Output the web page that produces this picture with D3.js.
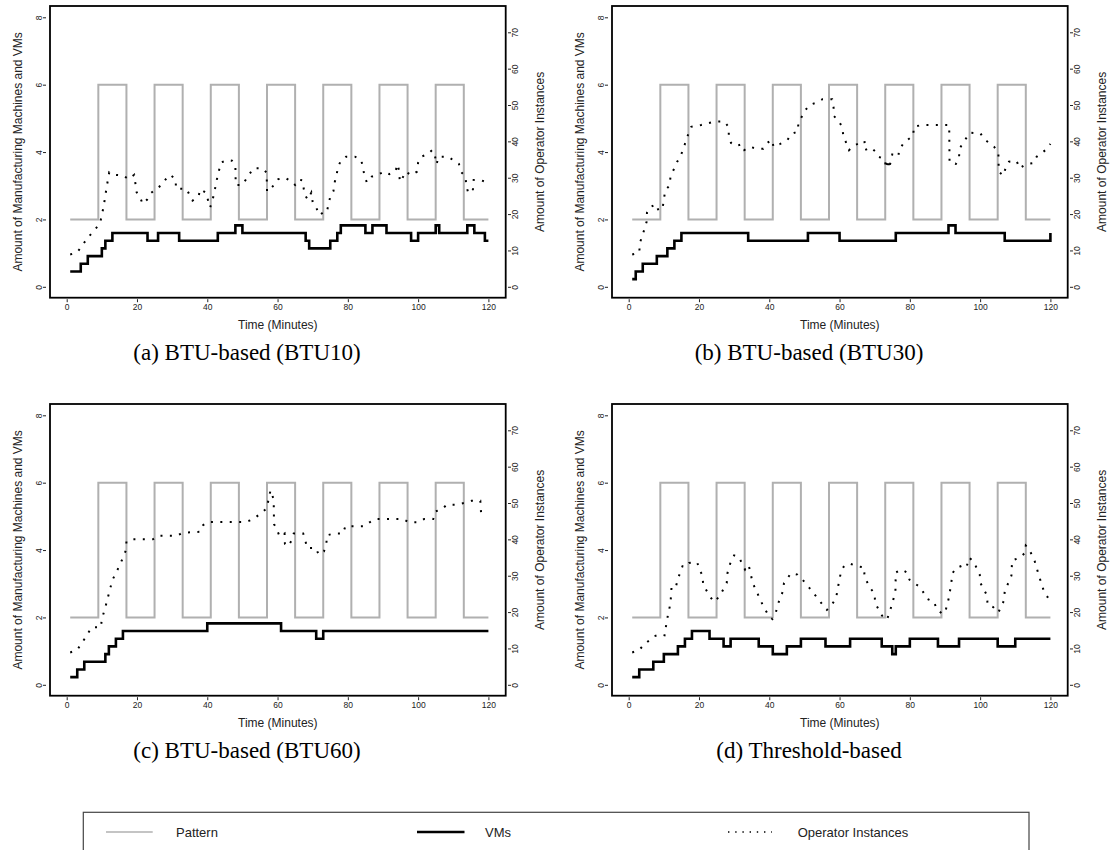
<!DOCTYPE html>
<html>
<head>
<meta charset="utf-8">
<script src="https://cdn.jsdelivr.net/npm/d3@7"></script>
<style>
  body { margin: 0; background: #fff; }
  svg { display: block; font-family: "Liberation Sans", Arial, sans-serif; }
</style>
</head>
<body>
<svg id="chart" width="1113" height="850" viewBox="0 0 1113 850"></svg>
<script>
// tick values
const timeTicks = [0, 20, 40, 60, 80, 100, 120];
const machineTicks = [0, 2, 4, 6, 8];
const operatorTicks = [0, 10, 20, 30, 40, 50, 60, 70];

// manufacturing machine pattern, [minute, machines] (step changes)
const pattern = [[1, 2], [9, 6], [17, 2], [25, 6], [33, 2], [41, 6], [49, 2], [57, 6],
  [65, 2], [73, 6], [81, 2], [89, 6], [97, 2], [105, 6], [113, 2], [120, 2]];

// VMs, [minute, number of VMs] (step changes)
const vmsBTU10 = [[1, 2], [4, 3], [6, 4], [10, 5], [11, 6], [13, 7], [23, 6], [26, 7], [32, 6],
  [43, 7], [48, 8], [50, 7], [68, 6], [69, 5], [75, 6], [77, 7], [78, 8], [85, 7], [87, 8],
  [91, 7], [98, 6], [100, 7], [105, 8], [106, 7], [114, 8], [116, 7], [119, 6], [120, 6]];
const vmsBTU30 = [[1, 1], [2, 2], [4, 3], [8, 4], [11, 5], [13, 6], [15, 7], [34, 6], [51, 7],
  [60, 6], [76, 7], [91, 8], [93, 7], [107, 6], [120, 7]];
const vmsBTU60 = [[1, 1], [3, 2], [5, 3], [11, 4], [12, 5], [14, 6], [16, 7], [40, 8], [61, 7],
  [71, 6], [73, 7], [120, 7]];
const vmsThreshold = [[1, 1], [3, 2], [7, 3], [10, 4], [14, 5], [16, 6], [18, 7], [23, 6], [27, 5],
  [29, 6], [37, 5], [41, 4], [45, 5], [49, 6], [56, 5], [63, 6], [72, 5], [75, 4], [76, 5],
  [80, 6], [88, 5], [94, 6], [105, 5], [110, 6], [120, 6]];

// operator instances, [minute, instances]
const opsBTU10 = [[1, 8.9], [3, 9.5], [6, 13.5], [8.7, 16.5], [9.6, 18], [10.5, 22], [11.3, 27],
  [12.1, 31.5], [13.6, 30.8], [16.1, 30.6], [17.6, 29.6], [19.2, 30.8], [19.9, 26], [20.9, 24.6],
  [21.6, 22.8], [22.9, 24], [23.9, 25.7], [25.3, 26.8], [27, 28], [28.2, 29.6], [29.4, 30.8],
  [31, 29.6], [31.1, 27], [34.1, 26.9], [35.8, 23.7], [37.5, 24.8], [38, 26.8], [39.6, 25.9],
  [40.8, 21.8], [41.4, 23.4], [42, 26], [42.9, 30.3], [43.9, 34.2], [45.9, 34.9], [47, 34.7],
  [48, 33.2], [48.1, 28], [50, 28], [51, 29.5], [53.1, 32.6], [55.7, 32.6], [56.9, 31.4],
  [57, 26.2], [58, 27], [59.5, 28.5], [60.2, 29.6], [62, 30], [64, 29], [65, 28], [66, 29.5],
  [67, 29.3], [67.8, 25.2], [68.6, 24], [69.6, 25.9], [70, 23.3], [71, 21.8], [71.9, 19.7],
  [73.1, 20.5], [74, 20.5], [75, 24.8], [75.9, 26.3], [76.3, 28.9], [76.8, 30.7], [77.2, 33],
  [77.9, 34.4], [79.5, 35.8], [82, 35.8], [83.8, 34.9], [84.3, 32.8], [84.7, 30.7], [85.4, 28.7],
  [86.8, 30.3], [88.7, 30.9], [90.4, 31.7], [91.8, 31], [93.5, 31.7], [94.2, 33.7], [94.6, 31.7],
  [94.8, 28.9], [95.5, 29.8], [96.4, 31.7], [98.1, 30.7], [99.7, 31.7], [100, 34.2], [100.9, 35.8],
  [102.6, 36.4], [104, 37.6], [104.8, 36], [105.2, 33.7], [105.9, 35.8], [108.5, 35.8],
  [110.2, 34.7], [111.6, 33.8], [112.3, 31.5], [113.5, 30.3], [113.7, 27.8], [114.3, 25.7],
  [115.6, 26.8], [115.8, 29.4], [117.6, 29.4], [119.7, 28.7]];
const opsBTU30 = [[1, 8.9], [3, 9.4], [3.2, 12.1], [4.4, 15.6], [5.1, 17.9], [5.2, 20.4],
  [5.9, 21.8], [7.8, 22.7], [8.5, 20.9], [9.7, 22], [10.4, 26.6], [11.6, 27.8], [11.9, 30.3],
  [13.8, 34.4], [14.8, 36], [15.9, 39], [16.8, 41.6], [17.8, 44], [20.6, 44.5], [24.3, 45.4],
  [27.2, 45.5], [28.4, 44], [28.5, 41.6], [29.1, 39.6], [30.5, 38.7], [32.2, 39.2], [32.9, 37.6],
  [34.5, 38.5], [36.4, 38], [38.3, 38], [39.3, 39.5], [40.8, 40.4], [41.2, 38.5], [43.1, 39.3],
  [45.2, 40.4], [46.2, 42], [48.1, 42.7], [48.3, 45.1], [50.3, 48.6], [51.4, 50], [53.3, 50.6],
  [55.2, 51.6], [57.9, 51.6], [58.3, 49.3], [58.4, 47], [59.9, 45.4], [60.8, 43.8], [61.1, 41.3],
  [62, 39.4], [62.7, 37.6], [63.9, 38.8], [66, 39.6], [67.1, 40.1], [67.2, 37.6], [68.9, 38.3],
  [70.1, 37.3], [71, 35.8], [72.9, 35.1], [73.2, 32.6], [73.9, 35], [74.1, 32.5], [75, 36.4],
  [76.7, 35.8], [77, 37.8], [78.1, 39.3], [79.6, 40.6], [81, 41.6], [81.1, 44], [83.4, 44.5],
  [91.2, 44.5], [91.3, 34.2], [93.1, 33.8], [94, 35.3], [94.1, 37.9], [95, 39.4], [97.1, 42.4],
  [100.1, 42.2], [101.1, 40.6], [102.6, 39.6], [104, 38.5], [105.2, 36.9], [105.3, 31.7],
  [106.6, 30.6], [107.3, 32.8], [108.2, 34.4], [110.4, 34.6], [111.2, 32.6], [113, 33.7],
  [115.1, 34], [116.1, 35.8], [118.9, 37.8], [120, 39.3]];
const opsBTU60 = [[1, 8.9], [3, 9.6], [5.2, 12.8], [7.1, 15.8], [9.7, 15.8], [10, 18], [11.2, 22.1],
  [13, 28.8], [15.2, 33.1], [16.9, 37.1], [17, 39.4], [18.6, 40], [24.5, 40], [26, 41], [31.3, 41],
  [33, 41.8], [38, 42.1], [38.8, 43.9], [40.3, 44.8], [51, 44.8], [53, 45.5], [54.9, 46.9],
  [56.9, 48.5], [58, 53.5], [58.9, 51], [59, 44.2], [59.8, 42.7], [60.6, 40.8], [62, 41.6],
  [62.1, 38.8], [63, 38.1], [64, 39.7], [64.6, 41.6], [67.3, 41.6], [67.9, 39.7], [68.4, 37.6],
  [70.9, 37.6], [71.7, 35.8], [73.2, 36.7], [73.9, 38.5], [74, 41.1], [76, 41.6], [78.6, 41.6],
  [79.3, 43.6], [84.6, 43.6], [86.2, 44.7], [87.9, 45.6], [95.7, 45.6], [97.4, 44.7], [100, 44.7],
  [101.7, 45.6], [104.3, 45.6], [104.9, 47.7], [106.8, 48.3], [108.1, 49.5], [110.7, 49.5],
  [113.1, 50], [115.2, 50.6], [117.7, 50.6], [118, 45.9]];
const opsThreshold = [[1, 8.9], [3, 9.6], [4.3, 11], [5.8, 12.2], [7.1, 13.3], [9, 13.9],
  [10.2, 13.6], [10.9, 17.9], [11.9, 22.5], [12.2, 27], [13.4, 26.9], [14.1, 29.4], [15.3, 32.6],
  [16.5, 32.5], [17.2, 33.5], [19.5, 33.7], [20.1, 31.7], [21, 30.1], [21.2, 27.5], [23.1, 24.3],
  [24.3, 22.8], [25.8, 24.3], [27.9, 28], [28.1, 30.7], [29, 33.7], [30, 35.6], [31.2, 35.3],
  [32.2, 33.5], [33.1, 31.7], [34.1, 33], [34.7, 30.7], [35.2, 28.2], [36.7, 25], [38.3, 21.6],
  [40, 18.8], [40.9, 18.1], [41.8, 19.7], [43, 23.8], [43.8, 25.5], [44.2, 28], [46.2, 30.7],
  [48, 30.3], [49.5, 28.9], [51.9, 26.1], [54.3, 23.1], [56.4, 20.6], [57.5, 21.6], [59, 23.8],
  [59.9, 28.7], [60.5, 31.4], [61.4, 32.8], [63, 33.3], [65, 32.6], [67, 32.3], [67.1, 29.6],
  [68.9, 26.4], [70, 25], [70.1, 22.5], [72.1, 19], [73.5, 17.9], [74.9, 22], [75.9, 25.7],
  [76, 30.9], [77.6, 31.7], [79.2, 30.9], [79.9, 28.9], [83, 26.8], [85, 23.6], [86.9, 22.8],
  [87.6, 20.9], [89, 19.7], [90, 19.7], [91.1, 23.9], [91.8, 28], [92.1, 30.6], [93.1, 32.1],
  [95, 32.8], [96.1, 32.3], [96.9, 35], [98.2, 33.8], [99.9, 30.3], [100.1, 28], [102, 24.5],
  [102.1, 22], [103.7, 21.4], [105.2, 19.9], [106.8, 23.2], [107, 25.7], [108.9, 30],
  [109.1, 34.2], [111.1, 34.9], [112.7, 36.2], [113, 38.3], [113.8, 37.6], [115.5, 34.1],
  [116.8, 29.8], [118.1, 25.9], [120, 22.8]];

const captions = ["(a) BTU-based (BTU10)", "(b) BTU-based (BTU30)",
  "(c) BTU-based (BTU60)", "(d) Threshold-based"];
const legendLabels = ["Pattern", "VMs", "Operator Instances"];

const panels = [
  { caption: captions[0], vms: vmsBTU10, ops: opsBTU10, dx: 0, dy: 0 },
  { caption: captions[1], vms: vmsBTU30, ops: opsBTU30, dx: 562, dy: 0 },
  { caption: captions[2], vms: vmsBTU60, ops: opsBTU60, dx: 0, dy: 398 },
  { caption: captions[3], vms: vmsThreshold, ops: opsThreshold, dx: 562, dy: 398 },
];

const svg = d3.select("#chart");
svg.append("rect").attr("width", 1113).attr("height", 850).attr("fill", "#fff");

const patternColor = "#b0b0b0";
const box = { x0: 50, x1: 505.7, y0: 6, y1: 297.7 };

const x = d3.scaleLinear().domain([0, 120]).range([66.7, 488.4]);
const yLeft = d3.scaleLinear().domain([0, 8]).range([286.8, 17.3]);
const yRight = d3.scaleLinear().domain([0, 70]).range([286.8, 32.3]);
const yVM = d3.scaleLinear().domain([0, 35.1]).range([286.8, 17.3]);

const patternLine = d3.line().x((d) => x(d[0])).y((d) => yLeft(d[1])).curve(d3.curveStepAfter);
const vmLine = d3.line().x((d) => x(d[0])).y((d) => yVM(d[1])).curve(d3.curveStepAfter);
const opLine = d3.line().x((d) => x(d[0])).y((d) => yRight(d[1]));

function styleAxis(g) {
  g.select(".domain").remove();
  g.selectAll("line").attr("stroke", "#222").attr("stroke-width", 1);
  g.selectAll("text").attr("fill", "#222").style("font-size", "8.5px");
}

function drawPanel(p) {
  const g = svg.append("g").attr("transform", `translate(${p.dx},${p.dy})`);

  g.append("path")
    .attr("d", patternLine(pattern))
    .attr("fill", "none")
    .attr("stroke", patternColor)
    .attr("stroke-width", 2);

  g.append("path")
    .attr("d", vmLine(p.vms))
    .attr("fill", "none")
    .attr("stroke", "#000")
    .attr("stroke-width", 2.6);

  g.append("path")
    .attr("d", opLine(p.ops))
    .attr("fill", "none")
    .attr("stroke", "#000")
    .attr("stroke-width", 2)
    .attr("stroke-dasharray", "2,7.4");

  g.append("rect")
    .attr("x", box.x0)
    .attr("y", box.y0)
    .attr("width", box.x1 - box.x0)
    .attr("height", box.y1 - box.y0)
    .attr("fill", "none")
    .attr("stroke", "#000")
    .attr("stroke-width", 1.8);

  // bottom axis
  g.append("g")
    .attr("transform", `translate(0,${box.y1 + 1.5})`)
    .call(d3.axisBottom(x).tickValues(timeTicks).tickSize(3).tickPadding(1.5))
    .call(styleAxis);

  // left axis, labels rotated
  g.append("g")
    .attr("transform", `translate(46,0)`)
    .call(d3.axisLeft(yLeft).tickValues(machineTicks).tickSize(3))
    .call(styleAxis)
    .selectAll("text")
    .attr("x", null)
    .attr("dy", null)
    .attr("text-anchor", "middle")
    .attr("transform", "translate(-4.5,0) rotate(-90)");

  // right axis
  g.append("g")
    .attr("transform", `translate(508,0)`)
    .call(d3.axisRight(yRight).tickValues(operatorTicks).tickSize(3))
    .call(styleAxis)
    .selectAll("text")
    .attr("x", null)
    .attr("dy", null)
    .attr("text-anchor", "middle")
    .attr("transform", "translate(9.5,0) rotate(-90)");

  const midY = (box.y0 + box.y1) / 2;
  g.append("text")
    .attr("x", (box.x0 + box.x1) / 2)
    .attr("y", 329)
    .attr("text-anchor", "middle")
    .attr("fill", "#222")
    .style("font-size", "12px")
    .text("Time (Minutes)");

  g.append("text")
    .attr("transform", `translate(22,${midY}) rotate(-90)`)
    .attr("text-anchor", "middle")
    .attr("fill", "#222")
    .style("font-size", "12px")
    .text("Amount of Manufacturing Machines and VMs");

  g.append("text")
    .attr("transform", `translate(543.5,${midY}) rotate(-90)`)
    .attr("text-anchor", "middle")
    .attr("fill", "#222")
    .style("font-size", "12px")
    .text("Amount of Operator Instances");

  g.append("text")
    .attr("x", 247)
    .attr("y", 360)
    .attr("text-anchor", "middle")
    .attr("fill", "#000")
    .style("font-family", '"Liberation Serif", "Times New Roman", serif')
    .style("font-size", "23px")
    .text(p.caption);
}

panels.forEach(drawPanel);

// legend
const legend = svg.append("g");
legend.append("rect")
  .attr("x", 83.3)
  .attr("y", 812.3)
  .attr("width", 945.7)
  .attr("height", 60)
  .attr("fill", "none")
  .attr("stroke", "#444")
  .attr("stroke-width", 1.2);

const legendItems = [
  { label: legendLabels[0], x1: 106, x2: 152.7, tx: 176, color: patternColor, w: 1.6, dash: null },
  { label: legendLabels[1], x1: 417, x2: 464.5, tx: 485, color: "#000", w: 2.5, dash: null },
  { label: legendLabels[2], x1: 728, x2: 772, tx: 797.7, color: "#000", w: 1.4, dash: "1.4,5.8" },
];

legendItems.forEach((d) => {
  legend.append("line")
    .attr("x1", d.x1).attr("x2", d.x2)
    .attr("y1", 832).attr("y2", 832)
    .attr("stroke", d.color)
    .attr("stroke-width", d.w)
    .attr("stroke-dasharray", d.dash);
  legend.append("text")
    .attr("x", d.tx)
    .attr("y", 836.6)
    .attr("fill", "#222")
    .style("font-size", "13px")
    .text(d.label);
});
</script>
</body>
</html>
